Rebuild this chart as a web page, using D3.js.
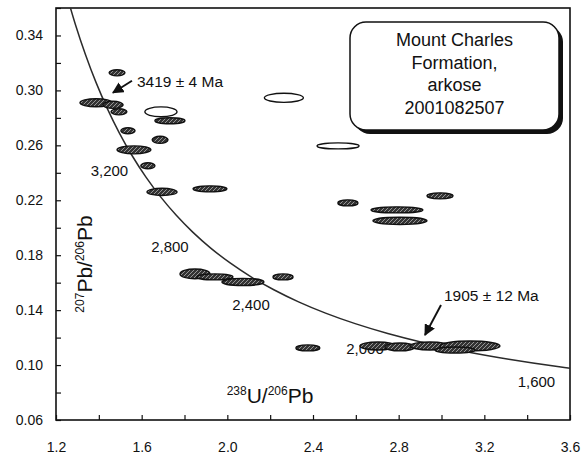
<!DOCTYPE html>
<html>
<head>
<meta charset="utf-8">
<script src="https://cdn.jsdelivr.net/npm/d3@7"></script>
<style>
  html, body { margin: 0; padding: 0; background: #fff; }
  svg { display: block; font-family: "Liberation Sans", Arial, Helvetica, sans-serif; }
</style>
</head>
<body>
<svg id="chart" width="581" height="457"></svg>
<script>
// Tera-Wasserburg concordia, tabulated every 100 Ma
const concordiaAge = [1500, 1600, 1700, 1800, 1900, 2000, 2100, 2200, 2300, 2400, 2500, 2600,
                      2700, 2800, 2900, 3000, 3100, 3200, 3300, 3400, 3500, 3600, 3700, 3800];
const concordiaU  = [3.8170, 3.5496, 3.3140, 3.1046, 2.9174, 2.7491, 2.5969, 2.4586, 2.3325, 2.2170,
                     2.1108, 2.0129, 1.9224, 1.8384, 1.7606, 1.6875, 1.6193, 1.5557, 1.4960, 1.4397,
                     1.3868, 1.3370, 1.2898, 1.2453];
const concordiaPb = [0.09360, 0.09872, 0.10419, 0.11003, 0.11629, 0.12298, 0.13015, 0.13782, 0.14604, 0.15484,
                     0.16426, 0.17437, 0.18520, 0.19682, 0.20928, 0.22266, 0.23701, 0.25242, 0.26896, 0.28674,
                     0.30583, 0.32635, 0.34840, 0.37210];

// Age marks written along the curve
const markAges   = [3200, 2800, 2400, 2000, 1600];
const markLabels = ["3,200", "2,800", "2,400", "2,000", "1,600"];

// SHRIMP spot analyses: 238U/206Pb, 207Pb/206Pb and error half-widths
const spotU   = [1.485, 1.387, 1.466, 1.494, 1.536, 1.564, 1.629, 1.695, 1.919, 1.690,
                 1.732, 1.686, 2.264, 2.517, 2.563, 2.993, 2.792, 2.806, 1.849, 1.942,
                 2.073, 2.260, 2.376, 2.703, 2.806, 2.946, 3.133, 3.063];
const spotPb  = [0.3128, 0.2910, 0.2895, 0.2844, 0.2706, 0.2567, 0.2451, 0.2261, 0.2283, 0.2844,
                 0.2779, 0.2640, 0.2946, 0.2596, 0.2181, 0.2232, 0.2130, 0.2050, 0.1664, 0.1642,
                 0.1605, 0.1642, 0.1125, 0.1139, 0.1132, 0.1139, 0.1139, 0.1110];
const errU    = [0.037, 0.075, 0.047, 0.037, 0.033, 0.079, 0.033, 0.070, 0.079, 0.075,
                 0.070, 0.037, 0.091, 0.098, 0.047, 0.061, 0.121, 0.126, 0.070, 0.084,
                 0.098, 0.047, 0.056, 0.084, 0.070, 0.093, 0.140, 0.093];
const errPb   = [0.0022, 0.0029, 0.0026, 0.0022, 0.0022, 0.0029, 0.0022, 0.0026, 0.0022, 0.0036,
                 0.0022, 0.0026, 0.0033, 0.0022, 0.0022, 0.0022, 0.0022, 0.0026, 0.0036, 0.0022,
                 0.0026, 0.0022, 0.0022, 0.0029, 0.0029, 0.0029, 0.0036, 0.0022];

// Dated ages called out with arrows
const noteText = ["3419 \u00b1 4 Ma", "1905 \u00b1 12 Ma"];
const noteU    = [1.466, 2.923];
const notePb   = [0.2983, 0.1219];

// Axis ticks
const xTicks      = [1.2, 1.4, 1.6, 1.8, 2.0, 2.2, 2.4, 2.6, 2.8, 3.0, 3.2, 3.4, 3.6];
const xTickLabels = ["1.2", "1.6", "2.0", "2.4", "2.8", "3.2", "3.6"];
const yTicks      = [0.06, 0.08, 0.10, 0.12, 0.14, 0.16, 0.18, 0.20, 0.22, 0.24, 0.26, 0.28, 0.30, 0.32, 0.34, 0.36];
const yTickLabels = ["0.06", "0.10", "0.14", "0.18", "0.22", "0.26", "0.30", "0.34"];

const sampleLines = ["Mount Charles", "Formation,", "arkose", "2001082507"];

// ---------------------------------------------------------------
const svg = d3.select("#chart");
const plotL = 56, plotR = 570, plotT = 8, plotB = 420;
const x = d3.scaleLinear().domain([1.2, 3.6]).range([plotL, plotR]);
const y = d3.scaleLinear().domain([0.06, 0.36]).range([plotB, plotT]);
const ink = "#111";

const defs = svg.append("defs");
defs.append("clipPath").attr("id", "plotClip")
  .append("rect").attr("x", plotL).attr("y", plotT).attr("width", plotR - plotL).attr("height", plotB - plotT);

const hatch = defs.append("pattern").attr("id", "hatch")
  .attr("patternUnits", "userSpaceOnUse").attr("width", 4).attr("height", 4);
hatch.append("rect").attr("width", 4).attr("height", 4).attr("fill", "#333");
hatch.append("path").attr("d", "M0,4L4,0").attr("stroke", "#b0b0b0").attr("stroke-width", 0.8);

defs.append("marker").attr("id", "head")
  .attr("viewBox", "0 0 10 10").attr("refX", 9).attr("refY", 5)
  .attr("markerWidth", 6).attr("markerHeight", 6).attr("markerUnits", "strokeWidth")
  .attr("orient", "auto")
  .append("path").attr("d", "M0,0L10,5L0,10z").attr("fill", ink);

// Axes with inward ticks
const xAxis = d3.axisBottom(x).tickValues(xTicks).tickSize(-5).tickPadding(22)
  .tickFormat(d => { const s = d.toFixed(1); return xTickLabels.includes(s) ? s : ""; });
const gx = svg.append("g").attr("transform", `translate(0,${plotB})`).call(xAxis);

const yAxis = d3.axisLeft(y).tickValues(yTicks).tickSize(-5).tickPadding(13)
  .tickFormat(d => { const s = d.toFixed(2); return yTickLabels.includes(s) ? s : ""; });
const gy = svg.append("g").attr("transform", `translate(${plotL},0)`).call(yAxis);

[gx, gy].forEach(g => {
  g.select(".domain").remove();
  g.selectAll(".tick line").attr("stroke", ink).attr("stroke-width", 1.2);
  g.selectAll(".tick text").attr("fill", ink).attr("font-size", 14)
    .attr("font-family", "'Liberation Sans', Arial, sans-serif");
});

// Frame
svg.append("rect").attr("x", plotL).attr("y", plotT)
  .attr("width", plotR - plotL).attr("height", plotB - plotT)
  .attr("fill", "none").attr("stroke", ink).attr("stroke-width", 1.6);

// Concordia curve
const pts = concordiaAge.map((a, i) => [concordiaU[i], concordiaPb[i]]);
svg.append("path").datum(pts)
  .attr("clip-path", "url(#plotClip)")
  .attr("d", d3.line().x(d => x(d[0])).y(d => y(d[1])).curve(d3.curveCatmullRom))
  .attr("fill", "none").attr("stroke", "#2b2b2b").attr("stroke-width", 1.5);

// Age labels below the curve
svg.append("g").selectAll("text").data(markAges).join("text")
  .attr("x", a => x(concordiaU[concordiaAge.indexOf(a)]) - 4)
  .attr("y", a => y(concordiaPb[concordiaAge.indexOf(a)]) + 20)
  .attr("text-anchor", "end").attr("font-size", 15).attr("fill", ink)
  .text((a, i) => markLabels[i]);

// Error ellipses
const openSpots = [9, 12, 13];
svg.append("g").selectAll("ellipse").data(spotU).join("ellipse")
  .attr("cx", (d, i) => x(spotU[i]))
  .attr("cy", (d, i) => y(spotPb[i]))
  .attr("rx", (d, i) => x(spotU[i] + errU[i]) - x(spotU[i]))
  .attr("ry", (d, i) => y(spotPb[i]) - y(spotPb[i] + errPb[i]))
  .attr("fill", (d, i) => openSpots.includes(i) ? "#fff" : "url(#hatch)")
  .attr("stroke", ink).attr("stroke-width", 1.4);

// Dated-age callouts
noteText.forEach((t, i) => {
  const tx = x(noteU[i]), ty = y(notePb[i]);
  const tail = i === 0 ? [tx + 19, ty - 12] : [tx + 16, ty - 30];
  const txt  = i === 0 ? [tx + 24, ty - 6]  : [tx + 19, ty - 34];
  svg.append("line")
    .attr("x1", tail[0]).attr("y1", tail[1]).attr("x2", tx).attr("y2", ty)
    .attr("stroke", ink).attr("stroke-width", 1.9).attr("marker-end", "url(#head)");
  svg.append("text").attr("x", txt[0]).attr("y", txt[1])
    .attr("font-size", 15.5).attr("fill", ink).text(t);
});

// Sample box with shadow
const bx = 350, by = 22, bw = 209, bh = 108;
svg.append("rect").attr("x", bx + 4).attr("y", by + 4).attr("width", bw).attr("height", bh)
  .attr("rx", 16).attr("fill", ink);
svg.append("rect").attr("x", bx).attr("y", by).attr("width", bw).attr("height", bh)
  .attr("rx", 16).attr("fill", "#fff").attr("stroke", ink).attr("stroke-width", 1.5);
svg.append("g").selectAll("text").data(sampleLines).join("text")
  .attr("x", bx + bw / 2).attr("y", (d, i) => by + 24 + i * 22.5)
  .attr("text-anchor", "middle").attr("font-size", 18).attr("fill", ink)
  .text(d => d);

// Axis titles
const xt = svg.append("text").attr("x", 270).attr("y", 403)
  .attr("text-anchor", "middle").attr("font-size", 21).attr("fill", ink);
xt.append("tspan").attr("font-size", 12).attr("dy", -8).text("238");
xt.append("tspan").attr("dy", 8).text("U/");
xt.append("tspan").attr("font-size", 12).attr("dy", -8).text("206");
xt.append("tspan").attr("dy", 8).text("Pb");

const yt = svg.append("text").attr("transform", "translate(92,264) rotate(-90)")
  .attr("text-anchor", "middle").attr("font-size", 21).attr("fill", ink);
yt.append("tspan").attr("font-size", 12).attr("dy", -8).text("207");
yt.append("tspan").attr("dy", 8).text("Pb/");
yt.append("tspan").attr("font-size", 12).attr("dy", -8).text("206");
yt.append("tspan").attr("dy", 8).text("Pb");
</script>
</body>
</html>
